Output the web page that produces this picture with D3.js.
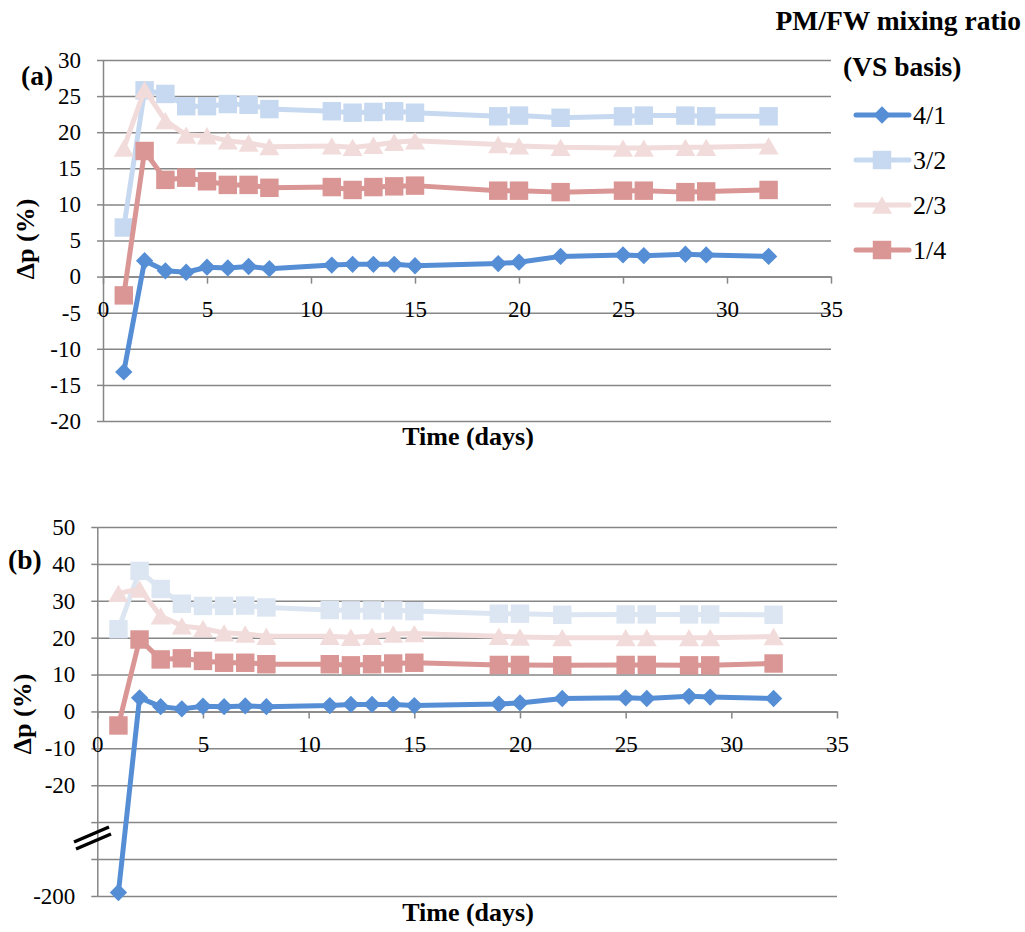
<!DOCTYPE html>
<html>
<head>
<meta charset="utf-8">
<script src="https://cdn.jsdelivr.net/npm/d3@7"></script>
<style>
body { margin: 0; background: #fff; }
svg text { font-family: "Times New Roman", "Liberation Serif", Tinos, serif; fill: #000; }
.axis path, .axis line { stroke: #868686; stroke-width: 1.5; }
.grid line { stroke: #868686; stroke-width: 1.5; }
.grid path { display: none; }
.title { font-weight: bold; font-size: 26px; }
.big { font-weight: bold; font-size: 27.5px; }
</style>
</head>
<body>
<svg id="chart" width="1025" height="932"></svg>
<script>
const serif = '"Times New Roman", "Liberation Serif", Tinos, serif';

// days of sampling
const days = [1, 2, 3, 4, 5, 6, 7, 8, 11, 12, 13, 14, 15, 19, 20, 22, 25, 26, 28, 29, 32];

const seriesNames = ['4/1', '3/2', '2/3', '1/4'];

// panel (a)
const a41 = [-13.2, 2.2, 0.8, 0.6, 1.3, 1.2, 1.4, 1.1, 1.6, 1.7, 1.7, 1.7, 1.5, 1.8, 2.0, 2.8, 3.0, 2.9, 3.1, 3.0, 2.8];
const a32 = [6.8, 25.8, 25.3, 23.6, 23.6, 23.9, 23.8, 23.2, 22.9, 22.7, 22.8, 22.9, 22.7, 22.2, 22.3, 22.0, 22.2, 22.3, 22.3, 22.2, 22.2];
const a23 = [17.8, 25.9, 21.6, 19.6, 19.5, 18.8, 18.5, 18.0, 18.1, 17.9, 18.2, 18.6, 18.8, 18.3, 18.1, 17.9, 17.8, 17.8, 17.9, 17.9, 18.1];
const a14 = [-2.6, 17.4, 13.4, 13.7, 13.2, 12.7, 12.7, 12.3, 12.4, 12.0, 12.4, 12.5, 12.6, 11.9, 11.9, 11.7, 11.9, 11.9, 11.7, 11.8, 12.0];

// panel (b)
const b41 = [-185, 3.7, 1.3, 0.7, 1.4, 1.3, 1.5, 1.3, 1.6, 1.9, 1.9, 1.9, 1.6, 2.0, 2.3, 3.5, 3.7, 3.5, 4.1, 3.9, 3.5];
const b32 = [22.3, 38.1, 33.2, 29.2, 28.6, 28.6, 28.7, 28.2, 27.5, 27.4, 27.4, 27.4, 27.2, 26.5, 26.5, 26.2, 26.3, 26.3, 26.3, 26.3, 26.2];
const b23 = [32.0, 33.2, 25.9, 23.2, 22.5, 21.3, 21.0, 20.4, 20.4, 20.1, 20.4, 21.0, 21.1, 20.4, 20.2, 20.0, 20.0, 20.0, 20.0, 20.0, 20.3];
const b14 = [-3.8, 19.5, 14.1, 14.4, 13.7, 13.2, 13.2, 12.8, 12.8, 12.5, 12.8, 13.0, 13.2, 12.6, 12.6, 12.5, 12.6, 12.6, 12.5, 12.5, 13.0];

// tick values
const xTicks = [0, 5, 10, 15, 20, 25, 30, 35];
const yTicksA = [-20, -15, -10, -5, 0, 5, 10, 15, 20, 25, 30];
const yTicksB = [-200, -40, -30, -20, -10, 0, 10, 20, 30, 40, 50];
const yLabelsB = ['-200', '', '', '-20', '-10', '0', '10', '20', '30', '40', '50'];

const colorsA = ['#558ed5', '#c6d9f1', '#f2dcdb', '#d99694'];
const colorsB = ['#558ed5', '#dce6f2', '#f2dcdb', '#d99694'];
const markers = ['diamond', 'square', 'triangle', 'square'];

const svg = d3.select('#chart');

// marker drawing
function addMarker(g, type, color, x, y) {
    if (type === 'diamond') {
        g.append('path')
            .attr('d', d3.symbol().type(d3.symbolSquare).size(150)())
            .attr('transform', `translate(${x},${y}) rotate(45)`)
            .attr('fill', color);
    } else if (type === 'square') {
        g.append('path')
            .attr('d', d3.symbol().type(d3.symbolSquare).size(340)())
            .attr('transform', `translate(${x},${y})`)
            .attr('fill', color);
    } else {
        const size = 175;
        const off = Math.sqrt(size / (Math.sqrt(3) * 3)) / 2;
        g.append('path')
            .attr('d', d3.symbol().type(d3.symbolTriangle).size(size)())
            .attr('transform', `translate(${x},${y + off})`)
            .attr('fill', color);
    }
}

function drawPanel(p) {
    const g = svg.append('g');
    const x = p.x, y = p.y;
    const x0 = x.range()[0], x1 = x.range()[1];

    // gridlines
    g.append('g')
        .attr('class', 'grid')
        .attr('transform', `translate(${x0},0)`)
        .call(d3.axisLeft(y).tickValues(p.yTicks).tickSize(-(x1 - x0)).tickFormat(''));

    // y axis
    g.append('g')
        .attr('class', 'axis')
        .attr('transform', `translate(${x0},0)`)
        .call(d3.axisLeft(y).tickValues(p.yTicks).tickSize(6).tickSizeOuter(0).tickPadding(16)
            .tickFormat((d, i) => p.yLabels ? p.yLabels[i] : d))
        .attr('font-family', serif)
        .attr('font-size', 23);

    // x axis crossing at 0
    g.append('g')
        .attr('class', 'axis')
        .attr('transform', `translate(0,${y(0)})`)
        .call(d3.axisBottom(x).tickValues(xTicks).tickSize(7).tickSizeOuter(0).tickPadding(17))
        .attr('font-family', serif)
        .attr('font-size', 23);

    g.selectAll('.tick text').attr('fill', '#000');

    // lines + markers
    const line = d3.line()
        .x((d, i) => x(days[i]))
        .y(d => y(d));

    p.series.forEach(function(vals, k) {
        g.append('path')
            .datum(vals)
            .attr('fill', 'none')
            .attr('stroke', p.colors[k])
            .attr('stroke-width', 5)
            .attr('stroke-linejoin', 'round')
            .attr('d', line);
        vals.forEach(function(v, i) {
            addMarker(g, markers[k], p.colors[k], x(days[i]), y(v));
        });
    });

    // titles
    g.append('text')
        .attr('class', 'title')
        .attr('x', 468)
        .attr('y', p.xTitleY)
        .attr('text-anchor', 'middle')
        .text('Time (days)');

    g.append('text')
        .attr('class', 'title')
        .attr('transform', `translate(${p.yTitleX},${p.yTitleY}) rotate(-90)`)
        .attr('text-anchor', 'middle')
        .text('Δp (%)');

    g.append('text')
        .attr('class', 'big')
        .attr('x', p.tagX)
        .attr('y', p.tagY)
        .text(p.tag);

    return g;
}

// panel (a)
const xA = d3.scaleLinear().domain([0, 35]).range([103, 831]);
const yA = d3.scaleLinear().domain([-20, 30]).range([421, 60]);
drawPanel({
    x: xA, y: yA, yTicks: yTicksA,
    series: [a41, a32, a23, a14], colors: colorsA,
    xTitleY: 445, yTitleX: 34, yTitleY: 239,
    tag: '(a)', tagX: 21, tagY: 85
});

// panel (b) with broken axis
const xB = d3.scaleLinear().domain([0, 35]).range([97.3, 837]);
const yB = d3.scaleLinear().domain([-200, -40, 50]).range([896, 859, 527]);
drawPanel({
    x: xB, y: yB, yTicks: yTicksB, yLabels: yLabelsB,
    series: [b41, b32, b23, b14], colors: colorsB,
    xTitleY: 921, yTitleX: 31, yTitleY: 714,
    tag: '(b)', tagX: 8, tagY: 569
});

// break mark on axis (b)
const brk = svg.append('g').attr('stroke', '#000').attr('stroke-width', 3.5);
brk.append('line').attr('x1', 74).attr('y1', 842).attr('x2', 109).attr('y2', 827);
brk.append('line').attr('x1', 76).attr('y1', 849).attr('x2', 111).attr('y2', 834);

// legend
const legend = svg.append('g');
legend.append('text')
    .attr('class', 'big')
    .attr('x', 1021).attr('y', 30)
    .attr('text-anchor', 'end')
    .text('PM/FW mixing ratio');
legend.append('text')
    .attr('class', 'big')
    .attr('x', 843).attr('y', 76)
    .text('(VS basis)');

seriesNames.forEach(function(name, k) {
    const ly = 115 + k * 45;
    legend.append('line')
        .attr('x1', 856).attr('x2', 909)
        .attr('y1', ly).attr('y2', ly)
        .attr('stroke', colorsA[k])
        .attr('stroke-width', 5)
        .attr('stroke-linecap', 'round');
    addMarker(legend, markers[k], colorsA[k], 882, ly);
    legend.append('text')
        .attr('x', 913).attr('y', ly + 9)
        .attr('font-family', serif)
        .attr('font-size', 26)
        .text(name);
});
</script>
</body>
</html>
